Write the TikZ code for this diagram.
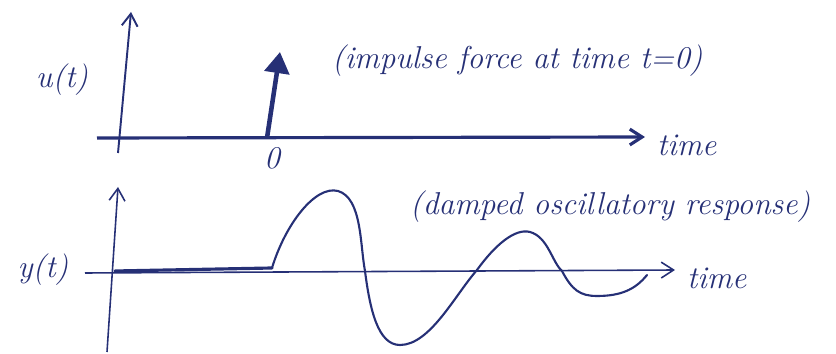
\documentclass[tikz,border=0pt]{standalone}
\usepackage{tikz}
\usetikzlibrary{arrows.meta}
\definecolor{inkblue}{RGB}{38,48,118}
\newcommand{\handtext}{\fontsize{18}{21}\selectfont\itshape}
\tikzset{
  axisline/.style={draw=inkblue, line width=1.1pt, -{Straight Barb[length=7pt,width=9pt]}},
  impulse/.style={draw=inkblue, fill=inkblue, line width=2.6pt, -{Triangle[length=12pt,width=14pt]}},
  response/.style={draw=inkblue, line width=1.2pt, line cap=round, line join=round},
  label/.style={text=inkblue, font=\handtext, inner sep=1pt}
}

\begin{document}
\begin{tikzpicture}[x=0.02cm, y=-0.02cm]
\useasboundingbox (0,0) rectangle (836,354);

% --- panel 1: the input force ----------------------------------------------
\coordinate (uBot) at (118,153);
\coordinate (uTop) at (131,12);
\coordinate (tStart) at (97,138);
\coordinate (tEnd) at (645,137);
\coordinate (kick) at (267,138);
\coordinate (kickTop) at (280,52);
\draw[axisline] (uBot) -- (uTop);
\draw[axisline, line width=1.8pt] (tStart) -- (tEnd);
\draw[impulse] (kick) -- (kickTop);
\node[label, anchor=west] (timeA) at (655,145) {time};
\node[label] (uLab) at (62,80) {u(t)};
\node[label] (zero) at (272,158) {0};
\node[label, anchor=west] (noteA) at (330,61) {(impulse force at time t=0)};

% --- panel 2: the output response -----------------------------------------
\coordinate (yBot) at (107,352);
\coordinate (yTop) at (118,187);
\coordinate (sStart) at (85,273);
\coordinate (sEnd) at (675,270);
\draw[axisline, line width=0.9pt] (yBot) -- (yTop);
\draw[axisline, line width=0.9pt] (sStart) -- (sEnd);
\node[label, anchor=west] (timeB) at (685,278) {time};
\node[label] (yLab) at (43,270) {y(t)};
\node[label, anchor=west] (noteB) at (408,207) {(damped oscillatory response)};

% flat until the kick, then the ringing
\draw[response, line width=1.8pt] (115,271) -- (272,268);
\draw[response] (272,268) .. controls (285,225) and (315,185) .. (338,191)
  .. controls (362,198) and (360,245) .. (365,271)
  .. controls (370,310) and (378,345) .. (400,345)
  .. controls (430,345) and (455,295) .. (477,270)
  .. controls (495,245) and (515,228) .. (530,232)
  .. controls (548,237) and (552,262) .. (562,271)
  .. controls (572,290) and (580,296) .. (597,296)
  .. controls (620,296) and (635,290) .. (647,275);

\end{tikzpicture}
\end{document}
